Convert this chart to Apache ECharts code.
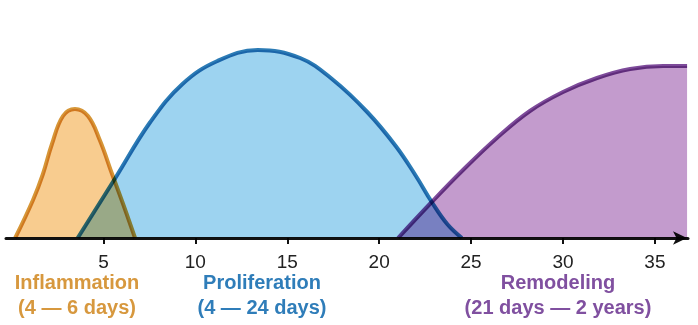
<!DOCTYPE html>
<html>
<head>
<meta charset="utf-8">
<script src="https://cdn.jsdelivr.net/npm/echarts@6/dist/echarts.min.js"></script>
<style>
html,body{margin:0;padding:0;background:#fff;}
#chart{width:698px;height:325px;}
</style>
</head>
<body>
<div id="chart"></div>
<script>
// x = days, y = relative intensity (schematic)
const inflammation = [[0.2,0],[1.17,19],[1.71,32],[2.2,47],[2.8,61],[3.45,64.5],[4.16,61],[4.8,49],[5.47,32],[6.07,17],[6.72,0]];
const proliferation = [[3.6,0],[5.65,30],[7.55,58],[9.3,77],[11.2,88.5],[13.4,94],[15.7,90],[17.5,79],[19.35,63],[20.9,46],[22.0,31],[22.86,18],[23.7,7],[24.5,0]];
const remodeling = [[21.03,0],[22.86,18],[24.56,34],[26.4,50],[28.2,63.5],[30.0,73],[31.85,80],[33.65,84.5],[35.45,86],[36.75,86]];
const tickValues = [5,10,15,20,25,30,35];
const phaseNames = ['Inflammation','Proliferation','Remodeling'];
const phaseSpans = ['(4 \u2014 6 days)','(4 \u2014 24 days)','(21 days \u2014 2 years)'];

const fills = ['#F8CC8F','#9DD3F0','#C39BCD'];
const strokes = ['#D69637','#2B7BB5','#7D4A9A'];
const textColors = ['#D7983E','#2F7DB9','#8050A0'];
const labelX = [77,262,558];

const chart = echarts.init(document.getElementById('chart'), null, {renderer:'canvas'});
const seriesData = [inflammation, proliferation, remodeling];
const graphics = [];
const labelFont = 'bold 20px "Liberation Sans", Arial, sans-serif';
phaseNames.forEach((n,i)=>{
  graphics.push({type:'text', x:labelX[i], y:283, style:{text:n, fill:textColors[i], font:labelFont, textAlign:'center', textVerticalAlign:'middle'}});
  graphics.push({type:'text', x:labelX[i], y:308, style:{text:phaseSpans[i], fill:textColors[i], font:labelFont, textAlign:'center', textVerticalAlign:'middle'}});
});

chart.setOption({
  animation:false,
  grid:{left:6,right:10,top:38,bottom:87},
  xAxis:{
    type:'value', min:-0.3, max:36.8,
    splitLine:{show:false},
    axisLine:{show:true, onZero:false, lineStyle:{color:'#111', width:3}, symbol:['none','arrow'], symbolSize:[10,14], symbolOffset:[0,-1]},
    axisTick:{show:true, customValues:tickValues, length:6, lineStyle:{color:'#111', width:2}},
    axisLabel:{show:true, customValues:tickValues, margin:15, color:'#222', fontSize:19, fontFamily:'"Liberation Sans", Arial, sans-serif'}
  },
  yAxis:{type:'value', min:0, max:100, show:false, splitLine:{show:false}},
  series: seriesData.map((d,i)=>({
    type:'line', data:d, smooth:0.4, showSymbol:false, symbol:'none',
    z: 2+i,
    lineStyle:{color:strokes[i], width:4},
    areaStyle:{color:fills[i], opacity:1}
  })),
  graphic: graphics
});

// multiply blending so overlapping phases darken like the reference
const zr = chart.getZr();
zr.storage.getDisplayList(true).forEach(el=>{
  if (el.style && !(el.type === 'text' || el.type === 'tspan')) { el.style.blend = 'multiply'; if (el.dirty) el.dirty(); }
});
zr.refreshImmediately();
</script>
</body>
</html>
